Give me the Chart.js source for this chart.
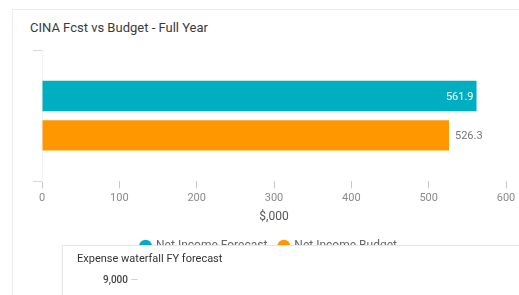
<!DOCTYPE html>
<html>
<head>
<meta charset="utf-8">
<script src="https://cdn.jsdelivr.net/npm/chart.js@4.4.1/dist/chart.umd.min.js"></script>
<style>
	html, body { margin: 0; padding: 0; background: #fff; }
	body { width: 519px; height: 295px; position: relative; overflow: hidden; font-family: Roboto, "Open Sans", sans-serif; }
	.card { position: absolute; left: 12px; top: 9px; width: 540px; height: 320px; border: 1px solid #ececec; background: #fff; }
	.card-title { position: absolute; left: 17px; top: 10px; font-size: 13px; color: #3a3a3a; }
	#wrap { position: absolute; left: 0; top: 0; width: 519px; height: 295px; }
	.card2 { position: absolute; left: 62px; top: 245px; width: 500px; height: 80px; border: 1px solid #e6e6e6; background: #fff; box-shadow: 0 0 2px rgba(0,0,0,0.05); }
	.card2-title { position: absolute; left: 14px; top: 6px; font-size: 11px; color: #333; }
	.card2-tick { position: absolute; left: 40px; top: 28px; font-size: 10px; color: #444; font-weight: 500; }
	.card2-tick span { color: #ccc; font-weight: 400; }
</style>
</head>
<body>
<div class="card"><div class="card-title">CINA Fcst vs Budget - Full Year</div></div>
<div id="wrap"><canvas id="bar-chart" width="519" height="295"></canvas></div>
<div class="card2">
	<div class="card2-title">Expense waterfall FY forecast</div>
	<div class="card2-tick">9,000 <span>&mdash;</span></div>
</div>
<script>
var categories = [""];
var seriesNames = ["Net Income Forecast", "Net Income Budget"];
var forecastValues = [561.9];
var budgetValues = [526.3];
var xTicks = [0, 100, 200, 300, 400, 500, 600];

var teal = "#00aec1",
	orange = "#ff9800";

// draws the value next to / inside each bar
var valueLabels = {
	id: "valueLabels",
	afterDatasetsDraw: function (chart) {
		var ctx = chart.ctx;
		chart.data.datasets.forEach(function (ds, i) {
			var meta = chart.getDatasetMeta(i);
			meta.data.forEach(function (bar, j) {
				var txt = ds.data[j].toFixed(1);
				ctx.save();
				ctx.font = "11px Roboto";
				ctx.textBaseline = "middle";
				if (ds.labelInside) {
					ctx.textAlign = "right";
					ctx.fillStyle = "#ffffff";
					ctx.fillText(txt, bar.x - 3, bar.y + 1);
				} else {
					ctx.textAlign = "left";
					ctx.fillStyle = "#777777";
					ctx.fillText(txt, bar.x + 6, bar.y + 1);
				}
				ctx.restore();
			});
		});
	}
};

var ctx = document.getElementById("bar-chart").getContext("2d");
var chart = new Chart(ctx, {
	type: "bar",
	data: {
		labels: categories,
		datasets: [{
			label: seriesNames[0],
			data: forecastValues,
			backgroundColor: teal,
			labelInside: true
		}, {
			label: seriesNames[1],
			data: budgetValues,
			backgroundColor: orange,
			labelInside: false
		}]
	},
	options: {
		indexAxis: "y",
		responsive: false,
		animation: false,
		layout: { padding: { top: 50, left: 32, right: 13, bottom: 33 } },
		categoryPercentage: 0.6,
		barPercentage: 0.77,
		scales: {
			x: {
				min: 0,
				max: 600,
				afterBuildTicks: function (axis) {
					axis.ticks = xTicks.map(function (v) { return { value: v }; });
				},
				grid: { drawOnChartArea: false, drawTicks: true, tickLength: 7, color: "#c8c8c8" },
				border: { display: false },
				ticks: { color: "#8a8a8a", font: { family: "Roboto", size: 11 }, padding: 3 },
				title: { display: true, text: "$,000", color: "#555", font: { family: "Roboto", size: 12 }, padding: { top: 2, bottom: 4 } }
			},
			y: {
				grid: { offset: true, drawOnChartArea: false, drawTicks: true, tickLength: 9, color: "#d8d8d8" },
				border: { display: true, color: "#f2f2f2" },
				ticks: { display: false },
				afterFit: function (scale) { scale.width = 10; }
			}
		},
		plugins: {
			legend: {
				position: "bottom",
				labels: { usePointStyle: true, pointStyle: "circle", boxWidth: 9, boxHeight: 9, color: "#666", font: { family: "Roboto", size: 12 }, padding: 12 }
			},
			tooltip: { enabled: false }
		}
	},
	plugins: [valueLabels]
});
</script>
</body>
</html>
